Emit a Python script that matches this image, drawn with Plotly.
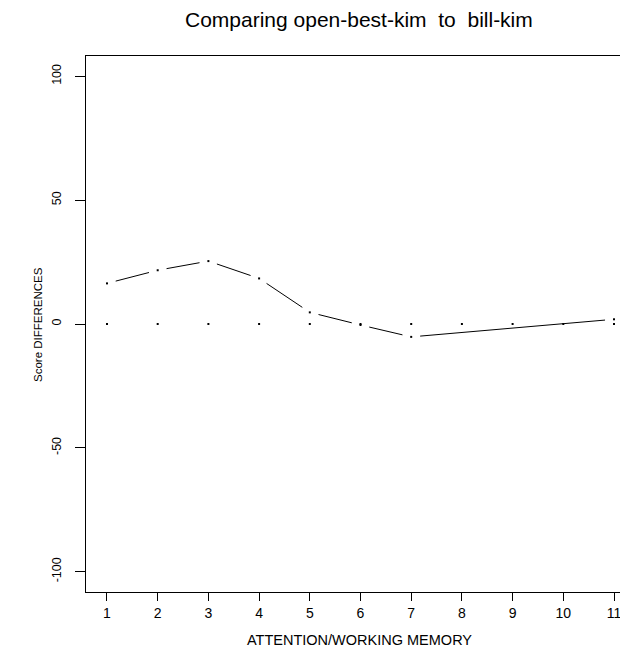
import math
import plotly.graph_objects as go

# ---- data ----
x_all = [1, 2, 3, 4, 5, 6, 7, 8, 9, 10, 11]
series_b_x = [1, 2, 3, 4, 5, 6, 7, 11]
series_b_y = [16.4, 21.7, 25.4, 18.4, 4.7, -0.4, -5.2, 1.9]
series_ref_y = [0, 0, 0, 0, 0, 0, 0, 0, 0, 0, 0]
y_ticks = [-100, -50, 0, 50, 100]
x_ticks = x_all

title_text = "Comparing open-best-kim\u00a0\u00a0to\u00a0\u00a0bill-kim"
x_title = "ATTENTION/WORKING MEMORY"
y_title = "Score DIFFERENCES"

# ---- layout geometry (page body has an 8px margin) ----
OFF = 8
PAGE_W, PAGE_H = 628, 649
W, H = PAGE_W - OFF, PAGE_H - OFF
PLOT_L, PLOT_T, PLOT_B = 86, 56, 592          # page pixels
ML, MR, MT, MB = PLOT_L - OFF, 0, PLOT_T - OFF, PAGE_H - PLOT_B
PW, PH = W - ML - MR, H - MT - MB
xr = [0.586, 11.276]
yr = [-108.2, 108.2]
kx = PW / (xr[1] - xr[0])
ky = PH / (yr[1] - yr[0])
GAP = 9.0  # px gap around points (R type="b")


def px_to_paper(px, py):
    return (px - PLOT_L) / PW, (PLOT_B - py) / PH


# build gapped segments like R's type="b"
seg_x, seg_y = [], []
for i in range(len(series_b_x) - 1):
    x1, y1 = series_b_x[i], series_b_y[i]
    x2, y2 = series_b_x[i + 1], series_b_y[i + 1]
    L = math.hypot((x2 - x1) * kx, (y2 - y1) * ky)
    if L > 2 * GAP:
        t = GAP / L
        seg_x += [x1 + (x2 - x1) * t, x2 - (x2 - x1) * t, None]
        seg_y += [y1 + (y2 - y1) * t, y2 - (y2 - y1) * t, None]

fig = go.Figure()
fig.add_trace(go.Scatter(x=seg_x, y=seg_y, mode="lines",
                         line=dict(color="black", width=1),
                         hoverinfo="skip", showlegend=False))
fig.add_trace(go.Scatter(x=series_b_x, y=series_b_y, mode="markers",
                         marker=dict(symbol="square", size=2, color="black",
                                     line=dict(width=0)),
                         showlegend=False))
fig.add_trace(go.Scatter(x=x_all, y=series_ref_y, mode="markers",
                         marker=dict(symbol="square", size=2, color="black",
                                     line=dict(width=0)),
                         showlegend=False))

font = "Liberation Sans, Arial, Helvetica, sans-serif"
tx, ty = px_to_paper(359, 20)
ax_x, ax_y = px_to_paper(359.5, 639.5)
ay_x, ay_y = px_to_paper(38, 325)

fig.update_layout(
    width=W, height=H,
    margin=dict(l=ML, r=MR, t=MT, b=MB, pad=0),
    paper_bgcolor="white", plot_bgcolor="white",
    font=dict(family=font, color="black"),
    showlegend=False,
    xaxis=dict(range=xr, tickvals=x_ticks, ticktext=[str(v) for v in x_ticks],
               showgrid=False, zeroline=False,
               showline=True, mirror=True, linecolor="black", linewidth=1,
               ticks="outside", ticklen=8, tickwidth=1, tickcolor="black",
               tickfont=dict(size=14, family=font, color="black")),
    yaxis=dict(range=yr, tickvals=y_ticks, ticktext=[str(v) for v in y_ticks],
               showgrid=False, zeroline=False,
               showline=True, linecolor="black", linewidth=1,
               ticks="outside", ticklen=10, tickwidth=1, tickcolor="black",
               tickangle=-90, ticklabelstandoff=9,
               tickfont=dict(size=12.5, family=font, color="black")),
    annotations=[
        dict(text=title_text, xref="paper", yref="paper", x=tx, y=ty,
             xanchor="center", yanchor="middle", showarrow=False,
             font=dict(size=21, family=font, color="black")),
        dict(text=x_title, xref="paper", yref="paper", x=ax_x, y=ax_y,
             xanchor="center", yanchor="middle", showarrow=False,
             font=dict(size=14.5, family=font, color="black")),
        dict(text=y_title, xref="paper", yref="paper", x=ay_x, y=ay_y,
             xanchor="center", yanchor="middle", showarrow=False, textangle=-90,
             font=dict(size=11.5, family=font, color="black")),
    ],
)

fig.write_html("out.html")
